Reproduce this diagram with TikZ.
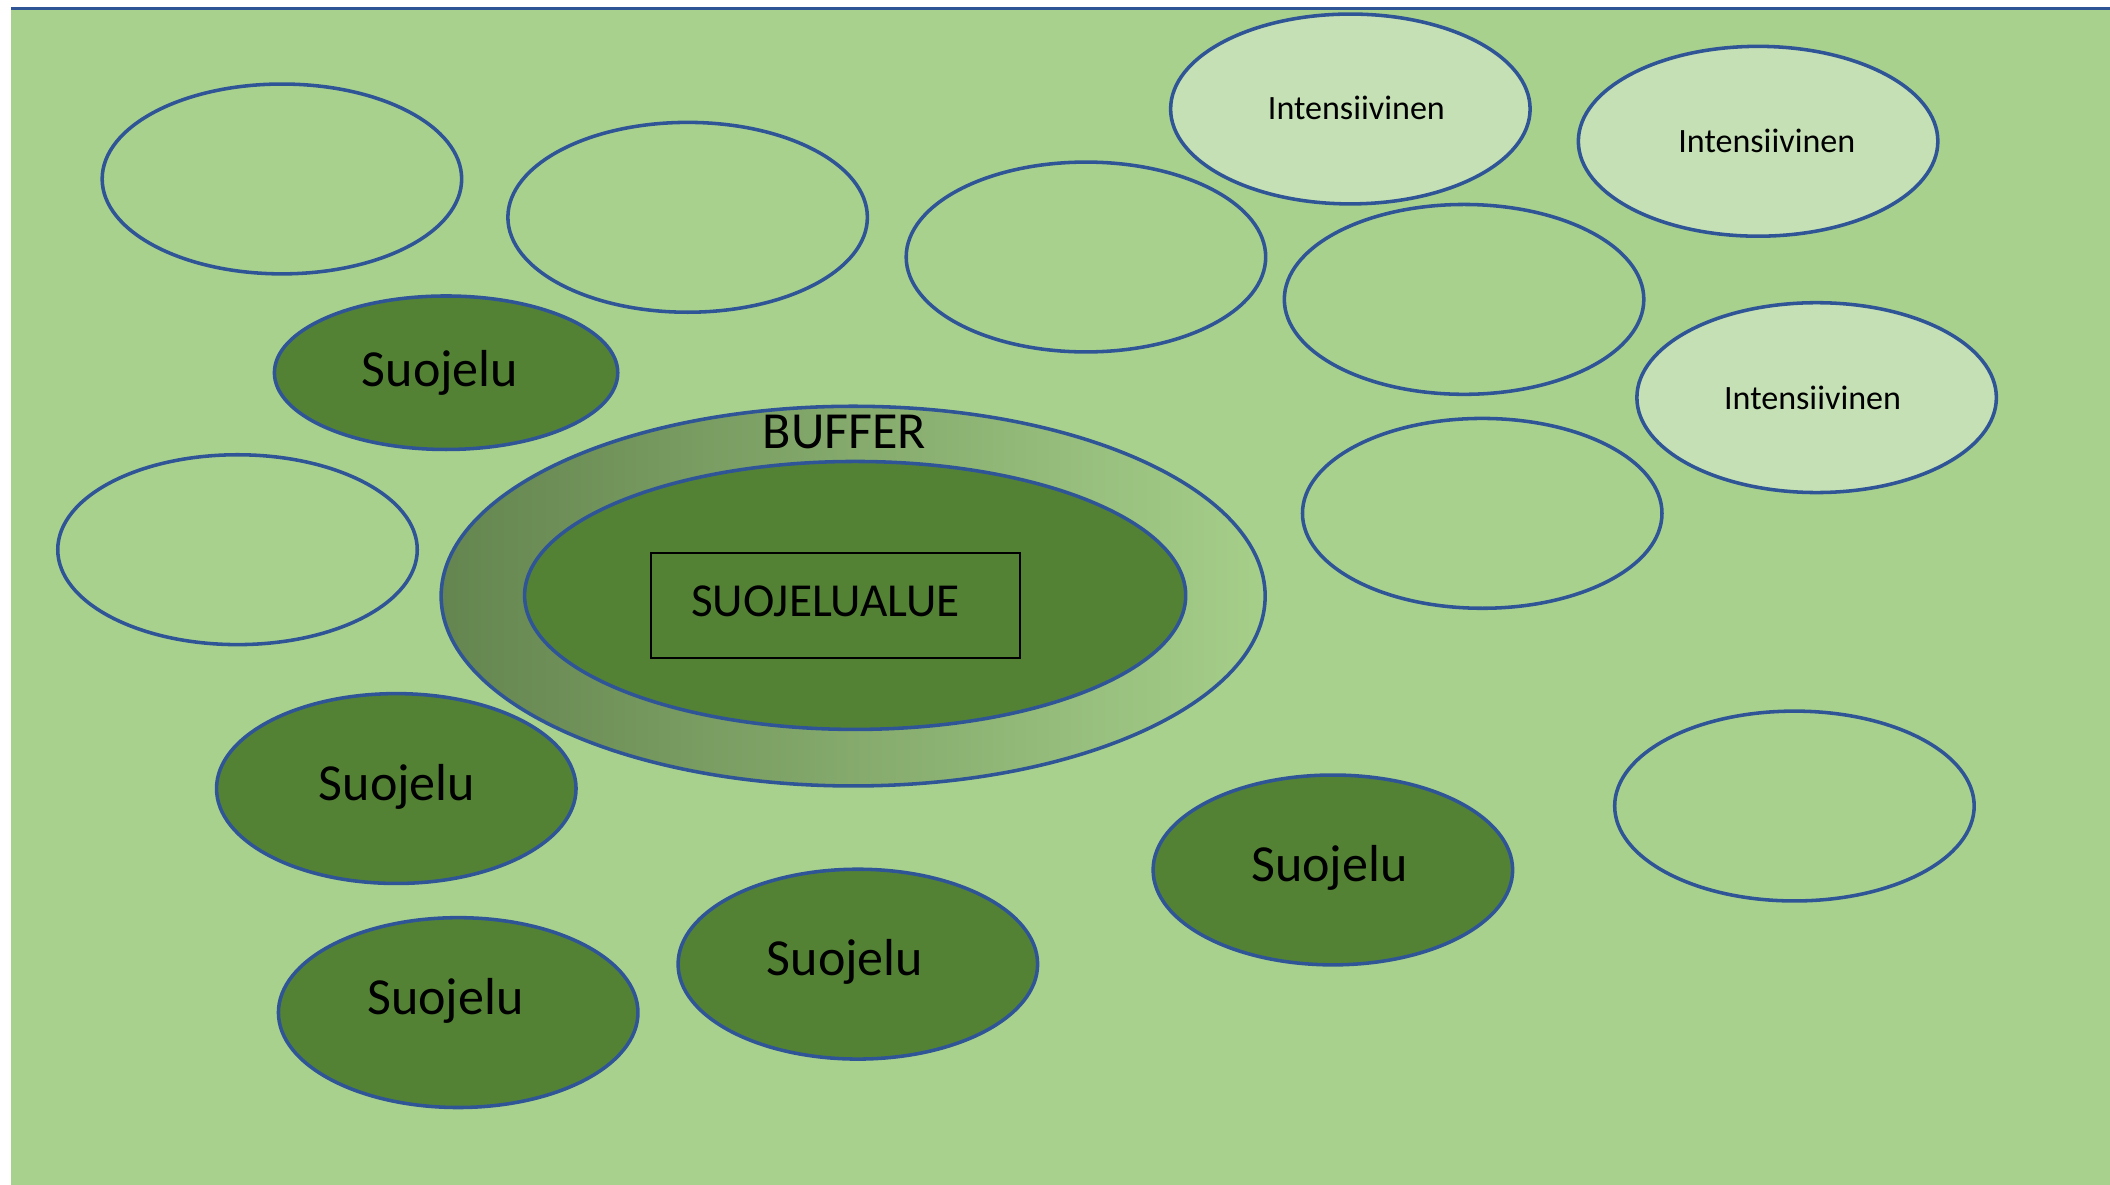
\documentclass[tikz,border=0pt]{standalone}
\usepackage{fontspec}
\setmainfont{Carlito}
\usetikzlibrary{shapes.geometric}
\definecolor{bgG}{HTML}{A9D18E}
\definecolor{darkG}{HTML}{548235}
\definecolor{lightG}{HTML}{C5E0B4}
\definecolor{outl}{HTML}{2F5597}
\definecolor{bufL}{HTML}{64854F}
\definecolor{bufR}{HTML}{A6CF8A}
\tikzset{
  blob/.style={ellipse, draw=outl, line width=0.75pt, inner sep=0pt,
    minimum width=2.67cm, minimum height=1.41cm},
  emptyblob/.style={blob},
  intblob/.style={blob, fill=lightG, font=\fontsize{7.2}{8}\selectfont},
  suoblob/.style={blob, fill=darkG, font=\fontsize{11}{13}\selectfont},
  lbl/.style={inner sep=0pt, text=black},
}
\begin{document}
\begin{tikzpicture}[x=0.01cm, y=-0.01cm]
\useasboundingbox (0,0) rectangle (1568,880.6);
\fill[white] (0,0) rectangle (1568,880.6);
\fill[bgG] (8.2,6.3) rectangle (1568,880.6);
\draw[outl, line width=0.45pt] (8.2,6.3) -- (1568,6.3);

% empty ellipses
\node[emptyblob] (e1) at (209.5,133) {};
\node[emptyblob] (e2) at (511,161.5) {};
\node[emptyblob] (e3) at (807,191) {};
\node[emptyblob] (e4) at (1088,222.5) {};
\node[emptyblob] (e5) at (1101.5,381.5) {};
\node[emptyblob] (e6) at (176.5,408.5) {};
\node[emptyblob] (e7) at (1333.5,599) {};

% intensive
\node[intblob] (i1) at (1003.5,81) {};
\node[lbl, font=\fontsize{7.2}{8}\selectfont] (ti1) at (1008,80) {Intensiivinen};
\node[intblob] (i2) at (1306.5,105) {};
\node[lbl, font=\fontsize{7.2}{8}\selectfont] (ti2) at (1313,105) {Intensiivinen};
\node[intblob] (i3) at (1350,295.5) {};
\node[lbl, font=\fontsize{7.2}{8}\selectfont] (ti3) at (1347,296) {Intensiivinen};

% buffer
\node[blob, minimum width=6.12cm, minimum height=2.82cm, left color=bufL, right color=bufR] (buf) at (634,443) {};
\node[lbl, font=\fontsize{11}{13}\selectfont] (tbuf) at (627.5,321) {BUFFER};
\node[blob, fill=darkG, minimum width=4.91cm, minimum height=1.99cm] (core) at (635.5,442.5) {};
\node[draw=black, line width=0.5pt, minimum width=2.74cm, minimum height=0.78cm, inner sep=0pt] (box) at (621,450) {};
\node[lbl, font=\fontsize{10}{12}\selectfont] (tcore) at (613.5,447) {SUOJELUALUE};

% suojelu
\node[suoblob, minimum width=2.55cm, minimum height=1.14cm] (s1) at (331.5,277) {};
\node[lbl, font=\fontsize{11}{13}\selectfont] (ts1) at (327,277) {Suojelu};
\node[suoblob] (s2) at (294.5,586) {};
\node[lbl, font=\fontsize{11}{13}\selectfont] (ts2) at (295,585) {Suojelu};
\node[suoblob] (s3) at (340.5,752.5) {};
\node[lbl, font=\fontsize{11}{13}\selectfont] (ts3) at (331,744) {Suojelu};
\node[suoblob] (s4) at (637.5,716.5) {};
\node[lbl, font=\fontsize{11}{13}\selectfont] (ts4) at (628,715) {Suojelu};
\node[suoblob] (s5) at (990.5,646.5) {};
\node[lbl, font=\fontsize{11}{13}\selectfont] (ts5) at (988,645) {Suojelu};
\end{tikzpicture}
\end{document}
